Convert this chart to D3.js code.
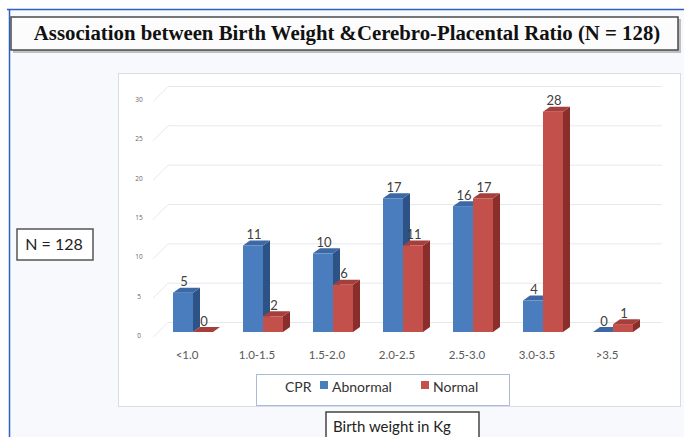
<!DOCTYPE html>
<html><head><meta charset="utf-8">
<script src="https://cdn.jsdelivr.net/npm/d3@7"></script>
<style>html,body{margin:0;padding:0;background:#fff;}svg{display:block;}</style>
</head><body>
<svg id="c" width="684" height="437"></svg>
<script>
const categories = ["<1.0","1.0-1.5","1.5-2.0","2.0-2.5","2.5-3.0","3.0-3.5",">3.5"];
const seriesNames = ["Abnormal","Normal"];
const abnormal = [5,11,10,17,16,4,0];
const normal = [0,2,6,11,17,28,1];
const yTicks = [0,5,10,15,20,25,30];
const titleText = "Association between Birth Weight &Cerebro-Placental Ratio (N = 128)";
const nText = "N = 128";
const legendTitle = "CPR";
const xAxisTitle = "Birth weight in Kg";

const svg = d3.select("#c");
const sans = "Lato,'Open Sans',sans-serif";
const colors = {
  Abnormal: {front:"#4a7dbd", side:"#2d5386", top:"#3c69a6"},
  Normal:   {front:"#c4504c", side:"#8a2e2c", top:"#a63f3c"}
};

// page background + blue frame
svg.append("rect").attr("x",9).attr("y",9).attr("width",675).attr("height",428).attr("fill","#f8f9fc");
svg.append("line").attr("x1",7).attr("x2",684).attr("y1",9.5).attr("y2",9.5).attr("stroke","#2f5fc0").attr("stroke-width",1.5);
svg.append("line").attr("x1",9.5).attr("x2",9.5).attr("y1",9).attr("y2",437).attr("stroke","#2f5fc0").attr("stroke-width",1.5);

// title box
svg.append("rect").attr("x",13).attr("y",19).attr("width",668).attr("height",34).attr("fill","#888").attr("opacity",0.5);
svg.append("rect").attr("x",11).attr("y",17).attr("width",667).attr("height",33).attr("fill","#fcfcfc").attr("stroke","#4a4a4a").attr("stroke-width",1.5);
const t = svg.append("text").attr("x",347).attr("y",40).attr("text-anchor","middle")
  .attr("font-family","'Liberation Serif','Times New Roman',serif").attr("font-weight","bold")
  .attr("font-size",17).attr("fill","#111").text(titleText);
const tl = t.node().getComputedTextLength();
t.attr("font-size", 17*627/tl);

// chart area box
svg.append("rect").attr("x",118.5).attr("y",73.5).attr("width",562).attr("height",333).attr("fill","#fff").attr("stroke","#d9dde3").attr("stroke-width",1);

// N box
svg.append("rect").attr("x",17).attr("y",229).attr("width",76).attr("height",31).attr("fill","#fff").attr("stroke","#555").attr("stroke-width",1.5);
svg.append("text").attr("x",54).attr("y",250).attr("text-anchor","middle").attr("font-family",sans)
  .attr("font-size",16).attr("fill","#222").text(nText);

// scales
const x = d3.scaleBand().domain(categories).range([158,648]).padding(0);
const x1 = d3.scaleBand().domain(seriesNames).range([15,55]).padding(0);
const y = d3.scaleLinear().domain([0,30]).range([332,96]);
const dx = 7, dy = 5;

// gridlines (3D back wall + floor diagonal)
const g = svg.append("g");
yTicks.forEach(v=>{
  const yb = y(v)-9.5, yf = y(v)+5.5;
  g.append("path").attr("d",`M153,${yf}L168,${yb}L662,${yb}`).attr("fill","none").attr("stroke","#e6e8ec").attr("stroke-width",1);
  g.append("text").attr("x",139).attr("y",y(v)+6).attr("text-anchor","middle").attr("font-family","'Open Sans',sans-serif")
    .attr("font-size",6.5).attr("fill","#666").text(v);
});

// bars
const data = categories.map((c,i)=>({cat:c, vals:[{s:"Abnormal",v:abnormal[i]},{s:"Normal",v:normal[i]}]}));
const bars = svg.append("g");
data.forEach(d=>{
  d.vals.forEach(p=>{
    const x0 = x(d.cat)+x1(p.s), w = x1.bandwidth(), yt = y(p.v), y0 = y(0);
    const c = colors[p.s];
    bars.append("path").attr("d",`M${x0+w},${yt}L${x0+w+dx},${yt-dy}L${x0+w+dx},${y0-dy}L${x0+w},${y0}Z`).attr("fill",c.side);
    bars.append("path").attr("d",`M${x0},${yt}L${x0+dx},${yt-dy}L${x0+w+dx},${yt-dy}L${x0+w},${yt}Z`).attr("fill",c.top);
    bars.append("rect").attr("x",x0).attr("y",yt).attr("width",w).attr("height",y0-yt).attr("fill",c.front);
    bars.append("text").attr("x",x0+w/2+1).attr("y",yt-6.5).attr("text-anchor","middle")
      .attr("font-family",sans).attr("font-size",13).attr("fill","#404040").text(p.v);
  });
});

// category labels
categories.forEach(c=>{
  svg.append("text").attr("x",x(c)+x.bandwidth()/2-6).attr("y",359).attr("text-anchor","middle")
    .attr("font-family",sans).attr("font-size",11.5).attr("fill","#595959").text(c);
});

// legend
svg.append("rect").attr("x",256.5).attr("y",374.5).attr("width",253).attr("height",31).attr("fill","#fff").attr("stroke","#a9bcd8").attr("stroke-width",1);
svg.append("text").attr("x",285).attr("y",392).attr("font-family",sans).attr("font-size",14).attr("fill","#333").text(legendTitle);
const lx = [320, 421];
seriesNames.forEach((s,i)=>{
  svg.append("rect").attr("x",lx[i]).attr("y",381).attr("width",8).attr("height",8).attr("fill",colors[s].front);
  svg.append("text").attr("x",lx[i]+12).attr("y",392).attr("font-family",sans).attr("font-size",14).attr("fill","#333").text(s);
});

// x axis title box
svg.append("rect").attr("x",326).attr("y",412).attr("width",153).attr("height",30).attr("fill","#fff").attr("stroke","#444").attr("stroke-width",1.5);
svg.append("text").attr("x",333).attr("y",432).attr("font-family",sans).attr("font-size",15).attr("fill","#222").text(xAxisTitle);
</script>
</body></html>
